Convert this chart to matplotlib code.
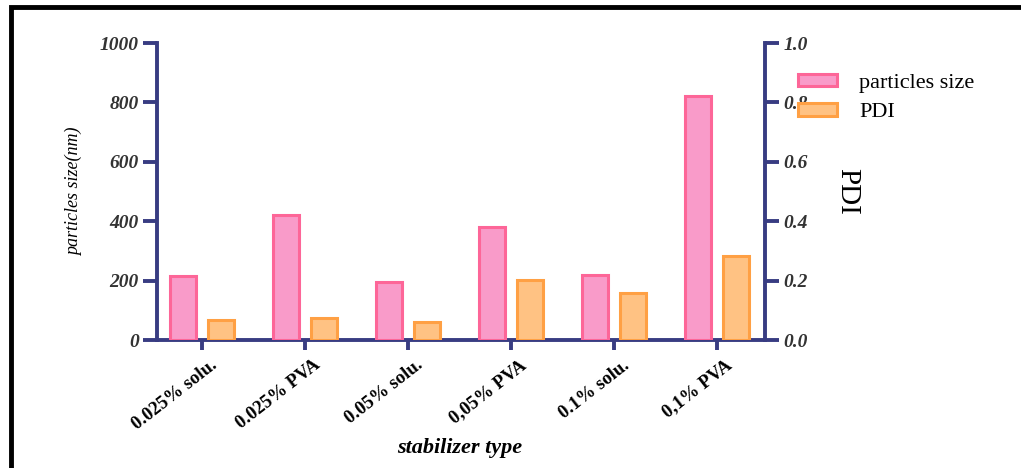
import numpy as np
import matplotlib.pyplot as plt
import matplotlib.transforms as mtransforms
from matplotlib.patches import Rectangle

categories = ['0.025% solu.', '0.025% PVA', '0.05% solu.', '0,05% PVA', '0.1% solu.', '0,1% PVA']
size_nm = [216, 420, 196, 380, 218, 822]
pdi = [0.068, 0.075, 0.062, 0.201, 0.157, 0.284]

navy = '#383c82'
pink_edge, pink_fill = '#fd6698', '#f99bc9'
orange_edge, orange_fill = '#ffa044', '#ffc283'

plt.rcParams['font.family'] = ['Liberation Serif', 'DejaVu Serif']

fig = plt.figure(figsize=(10.21, 4.68), dpi=100)
ax = fig.add_axes([0.1538, 0.2735, 0.5955, 0.6346])
ax2 = ax.twinx()

x = np.arange(len(categories))
w = 0.25
off = 0.185

ax.bar(x - off, size_nm, w, color=pink_fill, edgecolor=pink_edge, linewidth=2.2, label='particles size', zorder=3)
ax2.bar(x + off, pdi, w, color=orange_fill, edgecolor=orange_edge, linewidth=2.2, label='PDI', zorder=3)

ax.set_xlim(-0.437, 5.466)
ax.set_ylim(0, 1000)
ax2.set_ylim(0, 1.0)
ax.set_yticks([0, 200, 400, 600, 800, 1000])
ax2.set_yticks([0, 0.2, 0.4, 0.6, 0.8, 1.0])
ax2.set_yticklabels(['0.0', '0.2', '0.4', '0.6', '0.8', '1.0'])

for a in (ax, ax2):
    a.spines['top'].set_visible(False)
    for s in a.spines.values():
        s.set_color(navy)
        s.set_linewidth(2.8)
ax.spines['right'].set_visible(False)
ax2.spines['left'].set_visible(False)
ax2.spines['bottom'].set_visible(False)

ax.tick_params(axis='y', length=10, width=2.8, color=navy, labelsize=14, labelcolor='#333333', pad=3)
ax2.tick_params(axis='y', length=10, width=2.8, color=navy, labelsize=14, labelcolor='#333333', pad=3)
ax.tick_params(axis='x', length=7, width=2.8, color=navy, pad=5)
for lab in ax.get_yticklabels() + ax2.get_yticklabels():
    lab.set_fontweight('bold')
    lab.set_fontstyle('italic')

ax.set_xticks(x)
ax.set_xticklabels(categories, rotation=38, ha='right', rotation_mode='anchor',
                   fontsize=13.5, fontweight='bold', color='black')
shift = mtransforms.ScaledTranslation(0.08, 0, fig.dpi_scale_trans)
for lab in ax.get_xticklabels():
    lab.set_transform(lab.get_transform() + shift)

ax.set_ylabel('particles size(nm)', fontsize=13, fontstyle='italic', labelpad=12)
ax2.set_ylabel('PDI', fontsize=21, rotation=-90, labelpad=38)
fig.text(0.45, 0.042, 'stabilizer type', ha='center', va='center',
         fontsize=16, fontweight='bold', fontstyle='italic')

fig.legend(handles=[ax.patches[0], ax2.patches[0]], labels=['particles size', 'PDI'],
           loc='upper left', bbox_to_anchor=(0.762, 0.885), frameon=False,
           fontsize=16, handlelength=1.75, handleheight=0.5, labelspacing=0.45, handletextpad=1.0)

# outer frame
fig.patches.append(Rectangle((0.011, -0.05), 1.05, 1.035, transform=fig.transFigure,
                             fill=False, edgecolor='black', linewidth=3.5))

fig.savefig('out.png', dpi=100)
